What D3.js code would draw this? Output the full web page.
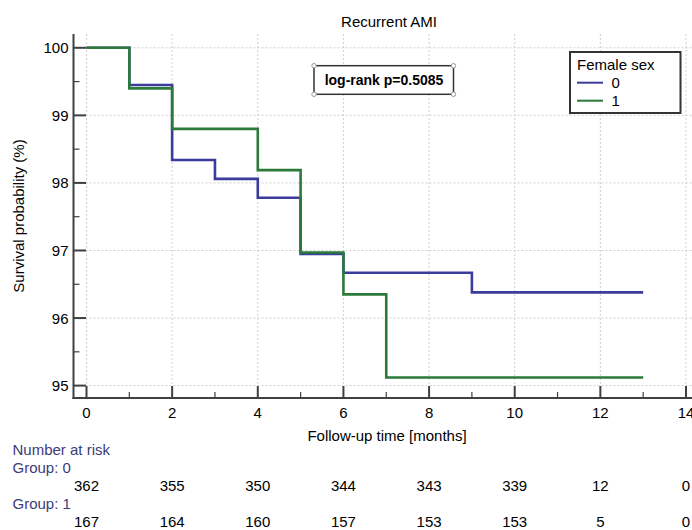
<!DOCTYPE html>
<html>
<head>
<meta charset="utf-8">
<script src="https://cdn.jsdelivr.net/npm/d3@7"></script>
<style>
  body { margin: 0; background: #fff; }
  text { font-family: "Liberation Sans", Arial, sans-serif; }
</style>
</head>
<body>
<div id="chart"></div>
<script>
// Kaplan-Meier steps, group 0 (female sex = 0)
const times0 = [0, 1, 2, 3, 4, 5, 6, 9, 13];
const surv0 = [100, 99.45, 98.34, 98.06, 97.78, 96.95, 96.67, 96.38, 96.38];

// group 1 (female sex = 1)
const times1 = [0, 1, 2, 4, 5, 6, 7, 13];
const surv1 = [100, 99.40, 98.80, 98.19, 96.97, 96.35, 95.12, 95.12];

const groupNames = ["0", "1"];
const groupColors = ["#3b3b9c", "#2b7a3a"];

// Number at risk table
const riskTimes = [0, 2, 4, 6, 8, 10, 12, 14];
const risk0 = [362, 355, 350, 344, 343, 339, 12, 0];
const risk1 = [167, 164, 160, 157, 153, 153, 5, 0];

const xTicks = [0, 2, 4, 6, 8, 10, 12, 14];
const yTicks = [95, 96, 97, 98, 99, 100];

const width = 692, height = 530;
const axisColor = "#404040";

const svg = d3.select("#chart").append("svg")
    .attr("width", width)
    .attr("height", height);

const x = d3.scaleLinear().domain([0, 14]).range([86.5, 686]);
const y = d3.scaleLinear().domain([95, 100]).range([385.6, 47.8]);

const axisX = 73.5, axisY = 398, plotTop = 34, plotRight = 692;

// grid
svg.append("g").selectAll("line")
    .data(xTicks)
    .enter().append("line")
    .attr("x1", d => x(d)).attr("x2", d => x(d))
    .attr("y1", plotTop).attr("y2", axisY)
    .attr("stroke", "#cfcfcf").attr("stroke-dasharray", "2,2");

svg.append("g").selectAll("line")
    .data(yTicks)
    .enter().append("line")
    .attr("x1", axisX).attr("x2", plotRight)
    .attr("y1", d => y(d)).attr("y2", d => y(d))
    .attr("stroke", "#cfcfcf").attr("stroke-dasharray", "2,2");

// axis lines
svg.append("line")
    .attr("x1", axisX).attr("x2", axisX)
    .attr("y1", plotTop).attr("y2", axisY + 1)
    .attr("stroke", axisColor).attr("stroke-width", 2);
svg.append("line")
    .attr("x1", axisX - 1).attr("x2", plotRight)
    .attr("y1", axisY).attr("y2", axisY)
    .attr("stroke", axisColor).attr("stroke-width", 2);

// ticks (inward), major + minor
const xMinor = d3.range(0, 15, 1);
svg.append("g").selectAll("line")
    .data(xMinor)
    .enter().append("line")
    .attr("x1", d => x(d)).attr("x2", d => x(d))
    .attr("y1", axisY)
    .attr("y2", d => axisY - (d % 2 === 0 ? 12 : 6))
    .attr("stroke", axisColor).attr("stroke-width", d => d % 2 === 0 ? 2 : 1.2);

const yMinor = d3.range(95, 100.01, 0.5);
svg.append("g").selectAll("line")
    .data(yMinor)
    .enter().append("line")
    .attr("x1", axisX)
    .attr("x2", d => axisX + (Number.isInteger(d) ? 12.5 : 6))
    .attr("y1", d => y(d)).attr("y2", d => y(d))
    .attr("stroke", axisColor).attr("stroke-width", d => Number.isInteger(d) ? 2 : 1.2);

// tick labels
svg.append("g").selectAll("text")
    .data(xTicks)
    .enter().append("text")
    .attr("x", d => x(d)).attr("y", 418)
    .attr("text-anchor", "middle")
    .style("font-size", "15px")
    .text(d => d);

svg.append("g").selectAll("text")
    .data(yTicks)
    .enter().append("text")
    .attr("x", 68.5).attr("y", d => y(d) + 5.5)
    .attr("text-anchor", "end")
    .style("font-size", "15px")
    .text(d => d);

// axis titles
svg.append("text")
    .attr("x", 389).attr("y", 27)
    .attr("text-anchor", "middle")
    .style("font-size", "15px")
    .text("Recurrent AMI");

svg.append("text")
    .attr("x", 387).attr("y", 441)
    .attr("text-anchor", "middle")
    .style("font-size", "15px")
    .text("Follow-up time [months]");

svg.append("text")
    .attr("transform", "translate(23.5,216) rotate(-90)")
    .attr("text-anchor", "middle")
    .style("font-size", "15px")
    .text("Survival probability (%)");

// survival curves
const line = d3.line()
    .x(d => x(d[0]))
    .y(d => y(d[1]))
    .curve(d3.curveStepAfter);

const curves = [
    d3.zip(times0, surv0),
    d3.zip(times1, surv1)
];

curves.forEach((pts, i) => {
    svg.append("path")
        .attr("d", line(pts))
        .attr("fill", "none")
        .attr("stroke", groupColors[i])
        .attr("stroke-width", 2.6);
});

// log-rank box
const lr = svg.append("g");
lr.append("rect")
    .attr("x", 314).attr("y", 65.7)
    .attr("width", 139.5).attr("height", 28.6)
    .attr("fill", "#fff")
    .attr("stroke", "#333").attr("stroke-width", 1.5);
[[314, 65.7], [453.5, 65.7], [314, 94.3], [453.5, 94.3]].forEach(p => {
    lr.append("circle")
        .attr("cx", p[0]).attr("cy", p[1]).attr("r", 2.2)
        .attr("fill", "#fff").attr("stroke", "#999").attr("stroke-width", 1);
});
lr.append("text")
    .attr("x", 384).attr("y", 84.5)
    .attr("text-anchor", "middle")
    .style("font-size", "14px")
    .style("font-weight", "bold")
    .text("log-rank p=0.5085");

// legend
const lg = svg.append("g");
lg.append("rect")
    .attr("x", 570).attr("y", 52)
    .attr("width", 110.5).attr("height", 61)
    .attr("fill", "#fff")
    .attr("stroke", "#333").attr("stroke-width", 2);
lg.append("text")
    .attr("x", 577).attr("y", 70)
    .style("font-size", "15px")
    .text("Female sex");
groupNames.forEach((g, i) => {
    const ly = 82.7 + i * 18;
    lg.append("line")
        .attr("x1", 577).attr("x2", 603)
        .attr("y1", ly).attr("y2", ly)
        .attr("stroke", groupColors[i]).attr("stroke-width", 2);
    lg.append("text")
        .attr("x", 611.5).attr("y", ly + 5.5)
        .style("font-size", "15px")
        .text(g);
});

// number at risk table
const labelColor = "#3c3c7c";
svg.append("text")
    .attr("x", 12.5).attr("y", 455)
    .style("font-size", "15px").attr("fill", labelColor)
    .text("Number at risk");

[risk0, risk1].forEach((row, i) => {
    const base = 472.5 + i * 36;
    svg.append("text")
        .attr("x", 12.5).attr("y", base)
        .style("font-size", "15px").attr("fill", labelColor)
        .text("Group: " + groupNames[i]);
    svg.append("g").selectAll("text")
        .data(row)
        .enter().append("text")
        .attr("x", (d, j) => x(riskTimes[j]))
        .attr("y", base + 18.5)
        .attr("text-anchor", "middle")
        .style("font-size", "15px")
        .text(d => d);
});
</script>
</body>
</html>
